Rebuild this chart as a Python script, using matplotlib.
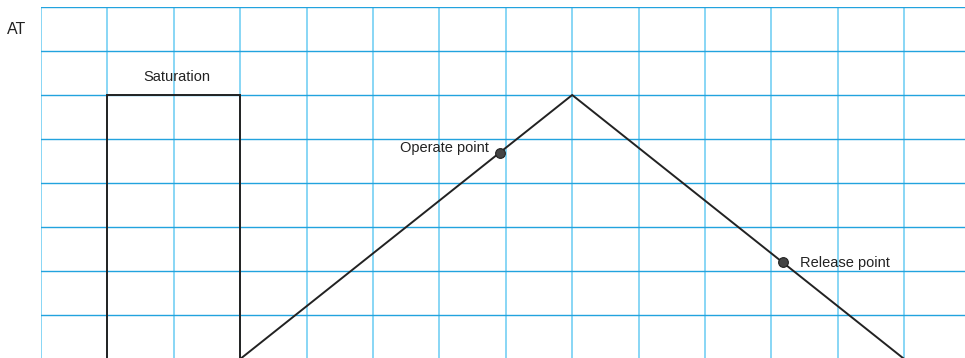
import matplotlib.pyplot as plt
import numpy as np

plt.rcParams['font.family'] = ['Liberation Sans', 'DejaVu Sans']

# saturation pulse (grid units)
sat_x = [1, 1, 3, 3]
sat_y = [0, 6, 6, 0]

# ramp up and down
ramp_x = [3, 8, 13]
ramp_y = [0, 6, 0]

# operate / release points
pt_names = ['Operate point', 'Release point']
pt_x = [6.91, 11.17]
pt_y = [4.69, 2.2]

fig = plt.figure(figsize=(9.65, 3.58), dpi=100)
W, H = 965, 358
ax = fig.add_axes([41 / W, (H - 359) / H, (965 - 41) / W, (359 - 7) / H])
ax.set_xlim(0, (965 - 41) / 66.4)
ax.set_ylim(0, 8)

for gx in range(0, 14):
    ax.axvline(gx, color='#74CFF4', lw=1.2, zorder=1)
for gy in range(0, 9):
    ax.axhline(gy, color='#22A3DE', lw=1.0, zorder=1)

ax.plot(sat_x, sat_y, color='#222222', lw=1.4, zorder=3, solid_joinstyle='miter')
ax.plot(ramp_x, ramp_y, color='#222222', lw=1.4, zorder=3)
ax.plot(pt_x, pt_y, 'o', ms=7, mfc='#444444', mec='#222222', mew=0.8, zorder=4)

fs = 10.5
ax.text(-0.51, 7.48, 'AT', fontsize=11.5, color='#222222', ha='left', va='center', clip_on=False)
ax.text(2.05, 6.41, 'Saturation', fontsize=fs, color='#222222', ha='center', va='center')
ax.text(6.74, 4.80, pt_names[0], fontsize=fs, color='#222222', ha='right', va='center')
ax.text(11.43, 2.18, pt_names[1], fontsize=fs, color='#222222', ha='left', va='center')

for s in ax.spines.values():
    s.set_visible(False)
ax.set_xticks([])
ax.set_yticks([])

fig.savefig('out.png', dpi=100)
